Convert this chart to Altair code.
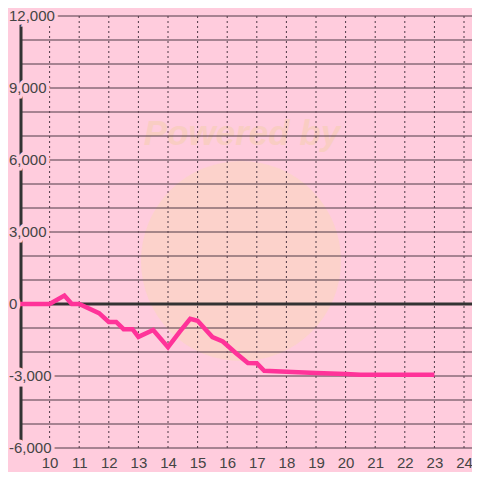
import altair as alt
import pandas as pd

# ---- data ----
hours = [9, 10, 10.5, 10.75, 11, 11.67, 12, 12.25, 12.5, 12.8, 13, 13.5, 14, 14.4,
         14.75, 15, 15.5, 15.85, 16.3, 16.7, 17, 17.25, 18, 19, 20, 20.5, 21, 22, 23]
values = [0, 0, 350, 0, 0, -380, -750, -750, -1050, -1050, -1370, -1080, -1800, -1150,
          -620, -700, -1380, -1560, -2050, -2460, -2470, -2780, -2820, -2870, -2920,
          -2950, -2950, -2950, -2950]
x_ticks = list(range(10, 25))
y_grid = list(range(-6000, 12001, 1000))
y_label_values = [-6000, -3000, 0, 3000, 6000, 9000, 12000]
y_label_texts = ["-6,000", "-3,000", "0", "3,000", "6,000", "9,000", "12,000"]

BG = "#ffccdd"
GRID = "#4e3a46"
TXT = "#444444"
FONT = "Liberation Sans"

line_df = pd.DataFrame({"h": hours, "v": values})
xgrid_df = pd.DataFrame({"h": x_ticks})
ygrid_df = pd.DataFrame({"v": y_grid})
ylab_df = pd.DataFrame({"v": y_label_values, "t": y_label_texts})
zero_df = pd.DataFrame({"v": [0]})

xs = alt.Scale(domain=[9, 24.27], nice=False, zero=False)
ys = alt.Scale(domain=[-6000, 12000], nice=False, zero=False)
xaxis = alt.Axis(values=x_ticks, format="d", grid=False, domain=False, ticks=False,
                 labelFontSize=15, labelColor=TXT, labelFont=FONT, labelPadding=7,
                 title=None, labelFlush=False)

circle = alt.Chart(zero_df).mark_circle(size=40000, color="#fcd3c9", opacity=0.9).encode(
    x=alt.value(221), y=alt.value(245))
wm = alt.Chart(zero_df).mark_text(text="Powered by", fontSize=35, fontWeight="bold",
                                  fontStyle="italic", font=FONT, color="#f9cdc3").encode(
    x=alt.value(222), y=alt.value(118))

hgrid = alt.Chart(ygrid_df).mark_rule(color=GRID, strokeWidth=1).encode(
    y=alt.Y("v:Q", scale=ys, axis=None))
vgrid = alt.Chart(xgrid_df).mark_rule(color=GRID, strokeWidth=1, strokeDash=[2, 3]).encode(
    x=alt.X("h:Q", scale=xs, axis=xaxis))
zero = alt.Chart(zero_df).mark_rule(color="#333333", strokeWidth=3).encode(
    y=alt.Y("v:Q", scale=ys, axis=None))
yline = alt.Chart(zero_df).mark_rule(color="#333333", strokeWidth=3).encode(
    x=alt.value(1), y=alt.value(0), y2=alt.value(432))

series = alt.Chart(line_df).mark_line(color="#ff3399", strokeWidth=4.5).encode(
    x=alt.X("h:Q", scale=xs, axis=xaxis),
    y=alt.Y("v:Q", scale=ys, axis=None))

ymask = alt.Chart(ylab_df).mark_text(align="left", baseline="middle", fontSize=15, font=FONT,
                                     color=BG, stroke=BG, strokeWidth=7).encode(
    x=alt.value(-11), y=alt.Y("v:Q", scale=ys, axis=None), text="t:N")
ytext = alt.Chart(ylab_df).mark_text(align="left", baseline="middle", fontSize=15, font=FONT,
                                     color=TXT).encode(
    x=alt.value(-11), y=alt.Y("v:Q", scale=ys, axis=None), text="t:N")

chart = alt.layer(circle, wm, hgrid, vgrid, zero, yline, series, ymask, ytext).properties(
    width=452, height=432, background=BG,
    padding={"left": 12, "top": 8, "right": 0, "bottom": 24},
    autosize=alt.AutoSizeParams(type="none"),
).configure_view(stroke=None).configure_axis(labelFont=FONT)

chart.save("out.html", embed_options={"renderer": "svg", "actions": False})
